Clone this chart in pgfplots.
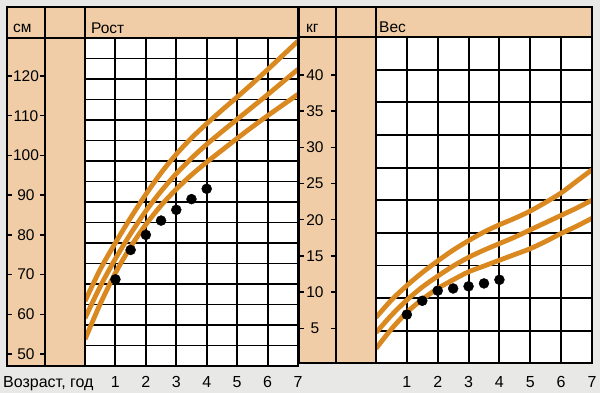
\documentclass[border=0pt]{standalone}
\usepackage{pgfplots}
\pgfplotsset{compat=1.18}
\usepackage{fontspec}
\setmainfont{Liberation Sans}
\definecolor{bg}{RGB}{232,232,230}
\definecolor{beige}{RGB}{240,205,166}
\definecolor{curve}{RGB}{217,137,32}
\newcommand\lblfont{\fontsize{15.5}{15.5}\selectfont}
\newcommand\bigfont{\fontsize{16}{16}\selectfont}
\pgfplotsset{
  gridaxis/.style={anchor=south west, scale only axis, xmin=0, xmax=7,
    xtick={1,2,3,4,5,6,7}, xticklabels={1,2,3,4,5,6,7}, yticklabels={},
    grid=major, major grid style={black, line width=1.9pt},
    major tick length=0pt, axis line style={black, line width=2pt},
    axis background/.style={fill=white},
    xticklabel style={font=\bigfont, anchor=base}},
  tickcol/.style={anchor=south west, scale only axis, xmin=0, xmax=1,
    xtick=\empty, ytick pos=both, tick align=inside, major tick length=5pt,
    axis line style={draw=none}, tick style={black, line width=1.4pt},
    yticklabel style={font=\lblfont, anchor=center}},
  band/.style={curve, line width=4.8pt, smooth},
  dots/.style={only marks, mark=*, mark size=5pt, black}
}
\begin{document}
\begin{tikzpicture}[x=1pt,y=1pt]
\fill[bg] (0,0) rectangle (600,393);
\fill[beige] (7,27) rectangle (298,386);
\fill[beige] (299,29.5) rectangle (592,386);

% ---- Height (Рост) ----
\begin{axis}[gridaxis, at={(85pt,27pt)}, width=213pt, height=328pt,
  ymin=46.978, ymax=129.577,
  ytick={52.140,57.303,62.465,67.628,72.790,77.952,83.115,88.277,93.440,98.602,103.764,108.927,114.089,119.252,124.414},
  xticklabel style={yshift=-22pt}]
\addplot[band] coordinates {(0,63.3) (0.5,71.3) (1,78.0) (1.5,84.3) (2,90.2) (2.5,95.6) (3,100.3) (3.5,104.4) (4,108.0) (4.5,111.4) (5,114.7) (5.5,118.1) (6,121.6) (6.5,125.2) (7,128.8)};
\addplot[band] coordinates {(0,59.0) (0.5,67.0) (1,74.0) (1.5,80.3) (2,86.0) (2.5,91.0) (3,95.4) (3.5,99.3) (4,102.8) (4.5,106.0) (5,109.1) (5.5,112.2) (6,115.3) (6.5,118.5) (7,121.7)};
\addplot[band] coordinates {(0,53.7) (0.5,62.6) (1,70.4) (1.5,77.0) (2,82.6) (2.5,87.4) (3,91.5) (3.5,95.1) (4,98.3) (4.5,101.3) (5,104.3) (5.5,107.2) (6,110.0) (6.5,112.7) (7,115.4)};
\addplot[dots] coordinates {(1,68.8) (1.5,76.2) (2,80.0) (2.5,83.6) (3,86.3) (3.5,89.0) (4,91.6)};
\end{axis}
\begin{axis}[tickcol, at={(7pt,27pt)}, width=38pt, height=328pt,
  ymin=46.978, ymax=129.577,
  ytick={50,60,70,80,90,100,110,120},
  yticklabels={50,60,70,80,90,100,110,120},
  yticklabel style={xshift=19pt}]
\end{axis}

% ---- Weight (Вес) ----
\begin{axis}[gridaxis, at={(376pt,29.5pt)}, width=216pt, height=326.5pt,
  ymin=0.14, ymax=45.23,
  ytick={4.649,9.158,13.667,18.176,22.685,27.194,31.703,36.212,40.721},
  xticklabel style={yshift=-24.5pt}]
\addplot[band] coordinates {(0,6.5) (0.5,8.9) (1,10.9) (1.5,12.7) (2,14.3) (2.5,15.8) (3,17.1) (3.5,18.3) (4,19.3) (4.5,20.2) (5,21.2) (5.5,22.4) (6,23.7) (6.5,25.3) (7,26.9)};
\addplot[band] coordinates {(0,4.4) (0.5,6.8) (1,8.9) (1.5,10.7) (2,12.2) (2.5,13.6) (3,14.8) (3.5,15.8) (4,16.7) (4.5,17.6) (5,18.6) (5.5,19.6) (6,20.6) (6.5,21.6) (7,22.7)};
\addplot[band] coordinates {(0,2.2) (0.5,4.9) (1,7.2) (1.5,9.0) (2,10.5) (2.5,11.7) (3,12.8) (3.5,13.6) (4,14.4) (4.5,15.2) (5,16.0) (5.5,17.0) (6,18.1) (6.5,19.1) (7,20.2)};
\addplot[dots] coordinates {(1,6.9) (1.5,8.8) (2,10.2) (2.5,10.5) (3,10.8) (3.5,11.2) (4,11.7)};
\end{axis}
\begin{axis}[tickcol, at={(299pt,29.5pt)}, width=37pt, height=326.5pt,
  ymin=0.14, ymax=45.23,
  ytick={5,10,15,20,25,30,35,40},
  yticklabels={5,10,15,20,25,30,35,40},
  yticklabel style={xshift=16pt}]
\end{axis}

% frames
\begin{scope}[line width=2pt, black]
\draw (7,27) rectangle (298,386);
\draw (45,27) -- (45,386);
\draw (85,27) -- (85,386);
\draw (7,355) -- (298,355);
\draw (299,29.5) rectangle (592,386);
\draw (336,29.5) -- (336,386);
\draw (376,29.5) -- (376,386);
\draw (299,356) -- (592,356);
\end{scope}

% texts
\node[anchor=base west, inner sep=0pt, font=\lblfont] at (13,360) {см};
\node[anchor=base west, inner sep=0pt, font=\lblfont] at (91,359) {Рост};
\node[anchor=base west, inner sep=0pt, font=\lblfont] at (306,360) {кг};
\node[anchor=base west, inner sep=0pt, font=\lblfont] at (379,360) {Вес};
\node[anchor=base west, inner sep=0pt, font=\bigfont] at (3,5) {Возраст, год};
\end{tikzpicture}
\end{document}
